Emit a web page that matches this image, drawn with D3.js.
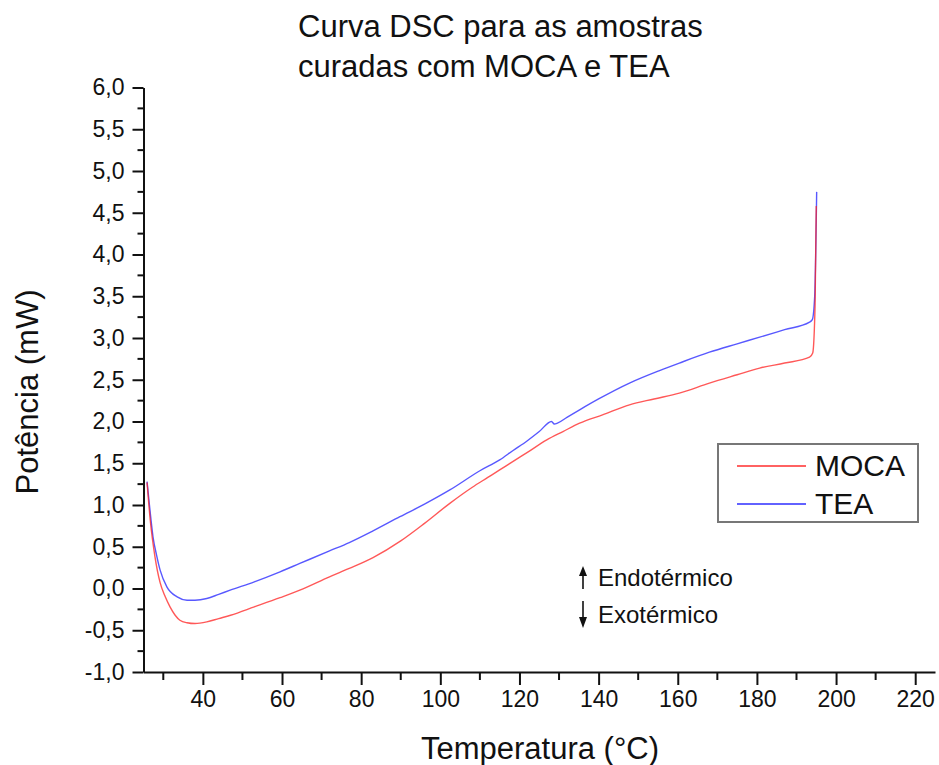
<!DOCTYPE html>
<html>
<head>
<meta charset="utf-8">
<script src="https://cdn.jsdelivr.net/npm/d3@7"></script>
<style>
  body { margin: 0; background: #fff; }
  svg text { font-family: "Liberation Sans", Arial, sans-serif; fill: #111; }
</style>
</head>
<body>
<svg id="chart" width="939" height="765"></svg>
<script>
// data
var mocaT = [25.9, 26.7, 27.9, 29.2, 30.5, 31.7, 33.0, 34.2, 36, 38, 41, 44, 47, 53, 59.5, 64.5, 72, 77, 83, 90, 96,
    102.4, 108, 112, 115, 118.3, 122, 126.9, 131, 135.2, 141, 147.8, 154, 160.4, 168, 175, 180.7, 187, 193.3, 194.1, 194.7, 195.0];
var mocaP = [1.27, 0.82, 0.38, 0.07, -0.10, -0.22, -0.32, -0.38, -0.41, -0.42, -0.40, -0.36, -0.32, -0.22, -0.11, -0.02, 0.14, 0.24, 0.37, 0.57, 0.78,
    1.02, 1.21, 1.33, 1.42, 1.52, 1.63, 1.78, 1.88, 1.98, 2.08, 2.20, 2.27, 2.34, 2.46, 2.56, 2.64, 2.70, 2.77, 2.82, 3.40, 4.58];

var teaT = [25.9, 26.5, 27.4, 28.3, 29.2, 30.9, 33.5, 36, 38, 41, 44, 46.9, 53, 59.5, 64.5, 72, 77, 83, 89.8, 96,
    102.4, 110, 115, 118.3, 122, 125, 128.1, 128.8, 129.6, 132, 135.2, 140, 147.8, 155.4, 160.4, 168, 175, 180.7, 187, 193.3, 194.0, 194.6, 195.1];
var teaP = [1.28, 1.00, 0.62, 0.40, 0.22, 0.02, -0.10, -0.14, -0.14, -0.12, -0.07, -0.02, 0.08, 0.20, 0.30, 0.45, 0.55, 0.69, 0.86, 1.01,
    1.18, 1.41, 1.54, 1.65, 1.77, 1.88, 2.00, 1.97, 1.98, 2.05, 2.14, 2.27, 2.46, 2.61, 2.70, 2.83, 2.93, 3.01, 3.10, 3.19, 3.22, 3.50, 4.75];

var seriesNames = ["MOCA", "TEA"];
var seriesColors = ["#ff2020", "#2020ff"];

var xMajor = [40, 60, 80, 100, 120, 140, 160, 180, 200, 220];
var xMinor = [30, 50, 70, 90, 110, 130, 150, 170, 190, 210];
var yMajor = [-1, -0.5, 0, 0.5, 1, 1.5, 2, 2.5, 3, 3.5, 4, 4.5, 5, 5.5, 6];
var yMinor = [-0.75, -0.25, 0.25, 0.75, 1.25, 1.75, 2.25, 2.75, 3.25, 3.75, 4.25, 4.75, 5.25, 5.75];

var svg = d3.select("#chart"),
    margin = {top: 87.5, right: 4, bottom: 93, left: 143.5},
    width = +svg.attr("width") - margin.left - margin.right,
    height = +svg.attr("height") - margin.top - margin.bottom;

var x = d3.scaleLinear().domain([25, 225]).range([0, width]);
var y = d3.scaleLinear().domain([-1, 6]).range([height, 0]);

var locale = d3.formatLocale({decimal: ",", thousands: ".", grouping: [3], currency: ["", ""], minus: "-"});
var fmtY = locale.format(".1f");

var g = svg.append("g")
    .attr("transform", "translate(" + margin.left + "," + margin.top + ")");

// curves
var line = d3.line()
    .x(function(d) { return x(d[0]); })
    .y(function(d) { return y(d[1]); })
    .curve(d3.curveMonotoneX);

var moca = mocaT.map(function(t, i) { return [t, mocaP[i]]; });
var tea = teaT.map(function(t, i) { return [t, teaP[i]]; });

g.append("path").datum(tea)
    .attr("fill", "none").attr("stroke", seriesColors[1]).attr("stroke-opacity", 0.75)
    .attr("stroke-width", 1.4).attr("d", line);
g.append("path").datum(moca)
    .attr("fill", "none").attr("stroke", seriesColors[0]).attr("stroke-opacity", 0.75)
    .attr("stroke-width", 1.4).attr("d", line);

// axes
var xAxis = g.append("g")
    .attr("transform", "translate(0," + height + ")")
    .call(d3.axisBottom(x).tickValues(xMajor).tickSize(13).tickPadding(6).tickSizeOuter(0));
xAxis.append("g").selectAll("line").data(xMinor).enter().append("line")
    .attr("x1", function(d) { return x(d); }).attr("x2", function(d) { return x(d); })
    .attr("y1", 0).attr("y2", 8).attr("stroke", "#111");

var yAxis = g.append("g")
    .call(d3.axisLeft(y).tickValues(yMajor).tickFormat(fmtY).tickSize(11).tickPadding(8).tickSizeOuter(0));
yAxis.append("g").selectAll("line").data(yMinor).enter().append("line")
    .attr("y1", function(d) { return y(d); }).attr("y2", function(d) { return y(d); })
    .attr("x1", 0).attr("x2", -6).attr("stroke", "#111");

g.selectAll(".domain").attr("stroke", "#111").attr("stroke-width", 2);
g.selectAll(".tick line").attr("stroke", "#111").attr("stroke-width", 2);
xAxis.selectAll("g > line").attr("stroke-width", 2);
yAxis.selectAll("g > line").attr("stroke-width", 2);
g.selectAll(".tick text")
    .style("font-family", "'Liberation Sans', Arial, sans-serif")
    .style("font-size", "23px").attr("fill", "#111");

// titles (left aligned, as in the original)
svg.append("text").attr("x", 298).attr("y", 37)
    .style("font-size", "31px").text("Curva DSC para as amostras");
svg.append("text").attr("x", 298).attr("y", 77)
    .style("font-size", "31px").text("curadas com MOCA e TEA");

svg.append("text").attr("x", 540).attr("y", 759).attr("text-anchor", "middle")
    .style("font-size", "31px").text("Temperatura (°C)");
svg.append("text").attr("transform", "translate(38,392) rotate(-90)").attr("text-anchor", "middle")
    .style("font-size", "31px").text("Potência (mW)");

// legend
var legend = svg.append("g");
legend.append("rect").attr("x", 718).attr("y", 444).attr("width", 200).attr("height", 78)
    .attr("fill", "#fff").attr("stroke", "#777").attr("stroke-width", 2);
seriesNames.forEach(function(name, i) {
    var ly = 466 + i * 38;
    legend.append("line").attr("x1", 737).attr("x2", 806).attr("y1", ly).attr("y2", ly)
        .attr("stroke", seriesColors[i]).attr("stroke-opacity", 0.7).attr("stroke-width", 2);
    legend.append("text").attr("x", 815).attr("y", ly + 10)
        .style("font-size", "30px").text(name);
});

// endo / exo annotation
var ann = svg.append("g");
ann.append("line").attr("x1", 583).attr("x2", 583).attr("y1", 589).attr("y2", 572).attr("stroke", "#111").attr("stroke-width", 1.6);
ann.append("path").attr("d", "M579,576 L583,566 L587,576 Z").attr("fill", "#111");
ann.append("line").attr("x1", 583).attr("x2", 583).attr("y1", 601).attr("y2", 620).attr("stroke", "#111").attr("stroke-width", 1.6);
ann.append("path").attr("d", "M579,617 L583,628 L587,617 Z").attr("fill", "#111");
ann.append("text").attr("x", 598).attr("y", 586).style("font-size", "24px").text("Endotérmico");
ann.append("text").attr("x", 598).attr("y", 623).style("font-size", "24px").text("Exotérmico");
</script>
</body>
</html>
